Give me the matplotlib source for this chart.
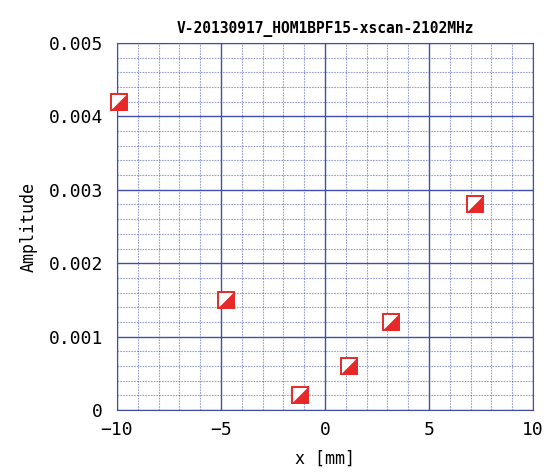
import matplotlib
matplotlib.use("Agg")
import matplotlib.pyplot as plt
from matplotlib.ticker import MultipleLocator

# x position [mm] and amplitude
x_mm = [-9.9, -4.75, -1.2, 1.15, 3.15, 7.2]
amp = [0.0042, 0.0015, 0.0002, 0.0006, 0.0012, 0.0028]

title = "V-20130917_HOM1BPF15-xscan-2102MHz"

plt.rcParams['font.family'] = ['DejaVu Sans Mono']

fig = plt.figure(figsize=(5.5, 4.76), dpi=100)
ax = fig.add_axes([117 / 550, 1 - 410 / 476, 416 / 550, 367 / 476])

blue = "#4050a8"
ax.set_xlim(-10, 10)
ax.set_ylim(0, 0.005)
ax.xaxis.set_major_locator(MultipleLocator(5))
ax.xaxis.set_minor_locator(MultipleLocator(1))
ax.yaxis.set_major_locator(MultipleLocator(0.001))
ax.yaxis.set_minor_locator(MultipleLocator(0.0002))
ax.grid(which="major", color=blue, lw=1.0)
ax.grid(which="minor", color=blue, lw=0.8, ls=(0, (1.5, 1)), alpha=0.55)
ax.set_axisbelow(True)
for s in ax.spines.values():
    s.set_color(blue)
ax.tick_params(which="both", length=0, labelsize=13)
ax.tick_params(axis="x", pad=8)
ax.tick_params(axis="y", pad=10)
ax.set_yticks([0, 0.001, 0.002, 0.003, 0.004, 0.005])
ax.set_yticklabels(["0", "0.001", "0.002", "0.003", "0.004", "0.005"])

# half-filled square markers: white square + red lower-right triangle
tri = [(1, 1), (1, -1), (-1, -1), (1, 1)]
ax.plot(x_mm, amp, ls="none", marker="s", ms=11, mfc="white", mec="#e82828",
        mew=1.4, zorder=3, clip_on=False)
ax.plot(x_mm, amp, ls="none", marker=tri, ms=11, mfc="#e82828", mec="#e82828",
        mew=0.5, zorder=4, clip_on=False)

ax.set_xlabel("x [mm]", fontsize=12, labelpad=8)
ax.set_ylabel("Amplitude", fontsize=12, labelpad=8)
ax.set_title(title, fontsize=10.5, fontweight="bold", pad=7)

fig.savefig("out.png", dpi=100)
